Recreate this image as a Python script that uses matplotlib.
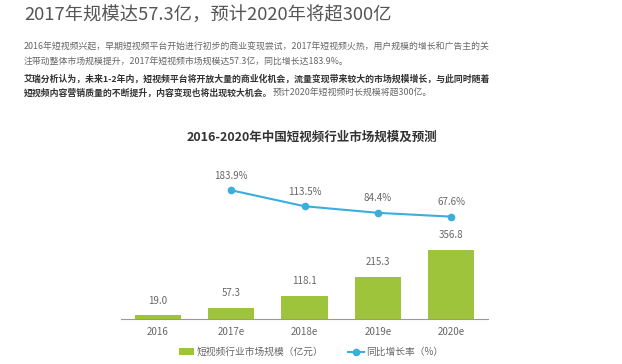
import matplotlib.pyplot as plt

plt.rcParams['font.family'] = ['Noto Sans CJK SC', 'DejaVu Sans']

years = ['2016', '2017e', '2018e', '2019e', '2020e']
market_size = [19.0, 57.3, 118.1, 215.3, 356.8]   # 亿元
growth_years = ['2017e', '2018e', '2019e', '2020e']
growth_rate = [183.9, 113.5, 84.4, 67.6]           # %

bar_color = '#9dc43a'
line_color = '#3aaedc'

fig = plt.figure(figsize=(6.22, 3.64), dpi=100)

# headline + paragraph
fig.text(24 / 622, 1 - 16 / 364, '2017年规模达57.3亿，预计2020年将超300亿',
         fontsize=13.2, color='#555555', va='center', ha='left')
para_lines = [
    ('2016年短视频兴起，早期短视频平台开始进行初步的商业变现尝试，2017年短视频火热，用户规模的增长和广告主的关', 'normal', '#666666'),
    ('注带动整体市场规模提升，2017年短视频市场规模达57.3亿，同比增长达183.9%。', 'normal', '#666666'),
    ('艾瑞分析认为，未来1-2年内，短视频平台将开放大量的商业化机会，流量变现带来较大的市场规模增长，与此同时随着', 'bold', '#333333'),
]
for i, (txt, w, c) in enumerate(para_lines):
    fig.text(24 / 622, 1 - [47, 62, 79][i] / 364, txt, fontsize=6.4,
             fontweight=w, color=c, va='center', ha='left')
t = fig.text(24 / 622, 1 - 93 / 364, '短视频内容营销质量的不断提升，内容变现也将出现较大机会。',
             fontsize=6.4, fontweight='bold', color='#333333', va='center', ha='left')
fig.canvas.draw()
bb = t.get_window_extent()
fig.text(bb.x1 / 622, 1 - 93 / 364, '预计2020年短视频时长规模将超300亿。',
         fontsize=6.4, color='#666666', va='center', ha='left')

fig.text(312 / 622, 1 - 137 / 364, '2016-2020年中国短视频行业市场规模及预测',
         fontsize=9, fontweight='bold', color='#333333', ha='center', va='center')

ax = fig.add_axes([121 / 622, 1 - 319 / 364, 367 / 622, 144 / 364])
x = list(range(len(years)))
bars = ax.bar(x, market_size, width=0.63, color=bar_color, label='短视频行业市场规模（亿元）')
ax.set_xlim(-0.5, 4.5)
ax.set_ylim(0, 742)
for xi, v in zip(x, market_size):
    ax.annotate(f'{v:.1f}', (xi, v), xytext=(0, 7), textcoords='offset points',
                ha='center', va='bottom', fontsize=7, color='#666666')
ax.set_xticks(x)
ax.set_xticklabels(years, fontsize=7, color='#666666')
ax.tick_params(axis='x', length=0, pad=6)
ax.set_yticks([])
for s in ['top', 'left', 'right']:
    ax.spines[s].set_visible(False)
ax.spines['bottom'].set_color('#999999')

ax2 = ax.twinx()
gx = [years.index(g) for g in growth_years]
ax2.plot(gx, growth_rate, color=line_color, lw=1.5, marker='o', ms=4.5,
         label='同比增长率（%）')
for xi, v in zip(gx, growth_rate):
    ax2.annotate(f'{v:.1f}%', (xi, v), xytext=(0, 7), textcoords='offset points',
                 ha='center', va='bottom', fontsize=7, color='#666666')
ax2.set_ylim(-383, 251)
ax2.set_yticks([])
for s in ax2.spines.values():
    s.set_visible(False)

h1, l1 = ax.get_legend_handles_labels()
h2, l2 = ax2.get_legend_handles_labels()
fig.legend(h1 + h2, l1 + l2, loc='center', bbox_to_anchor=(311 / 622, 1 - 352 / 364),
           ncol=2, frameon=False, fontsize=7, handlelength=1.6, handleheight=0.6,
           handletextpad=0.2, columnspacing=2.6, labelcolor='#666666')

fig.savefig('out.png', dpi=100)
